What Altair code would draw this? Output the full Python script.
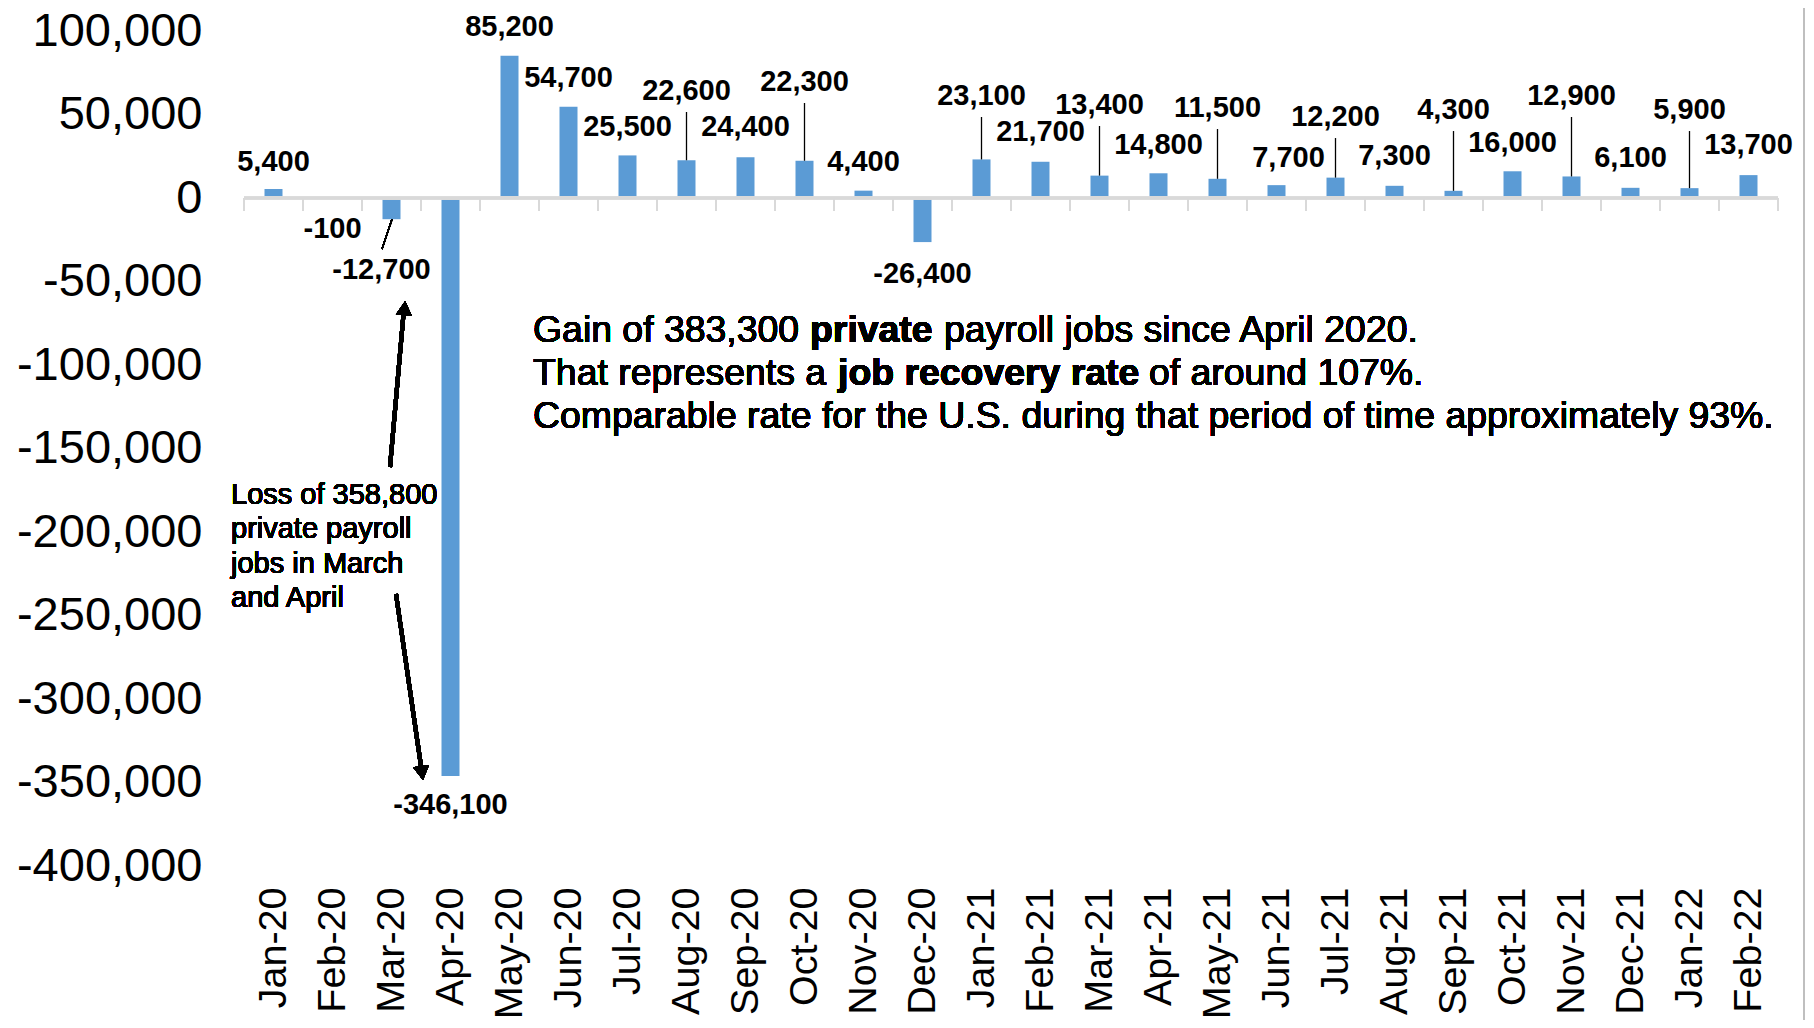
import altair as alt
import pandas as pd

FONT = "Liberation Sans"

months = ["Jan-20", "Feb-20", "Mar-20", "Apr-20", "May-20", "Jun-20", "Jul-20", "Aug-20",
          "Sep-20", "Oct-20", "Nov-20", "Dec-20", "Jan-21", "Feb-21", "Mar-21", "Apr-21",
          "May-21", "Jun-21", "Jul-21", "Aug-21", "Sep-21", "Oct-21", "Nov-21", "Dec-21",
          "Jan-22", "Feb-22"]
values = [5400, -100, -12700, -346100, 85200, 54700, 25500, 22600,
          24400, 22300, 4400, -26400, 23100, 21700, 13400, 14800,
          11500, 7700, 12200, 7300, 4300, 16000, 12900, 6100,
          5900, 13700]
# annotation placement of the value labels (y in data units)
label_y = [21600, -18600, -43100, -363500, 102400, 71900, 42500, 64100,
           42500, 69500, 21600, -45500, 61100, 39500, 55700, 31700,
           53900, 24000, 48500, 25100, 52700, 32900, 61100, 24000,
           52700, 31700]
label_dx = [0, 0, -10, 0, 0, 0, 0, 0, 0, 0, 0, 0, 0, 0, 0, 0,
            0, 12, 0, 0, 0, 0, 0, 0, 0, 0]
leader_months = ["Aug-20", "Oct-20", "Jan-21", "Mar-21", "May-21", "Jul-21",
                 "Sep-21", "Nov-21", "Jan-22"]
y_ticks = list(range(-400000, 100001, 50000))

df = pd.DataFrame({"month": months, "value": values, "label_y": label_y, "dx": label_dx})
df["label"] = [f"{v:,}" for v in values]
df["leader_top"] = df["label_y"] - 12600
lead_df = df[df["month"].isin(leader_months)]

xscale = alt.Scale(domain=months, paddingInner=0, paddingOuter=0)
yscale = alt.Scale(domain=[-400000, 100000], nice=False, zero=False)

x_axis = alt.Axis(title=None, domain=False, ticks=False, grid=False, labelAngle=270,
                  labelFontSize=39.5, labelFont=FONT, labelColor="black", labelPadding=21,
                  labelOverlap=False, labelLimit=0)
y_axis = alt.Axis(title=None, domain=False, ticks=False, grid=False, values=y_ticks,
                  labelExpr="replace(format(datum.value, ',d'), '\u2212', '-')",
                  labelFontSize=47, labelFont=FONT, labelColor="black", labelPadding=42,
                  labelLimit=0)


def xenc(bp=None):
    if bp is None:
        return alt.X("month:N", scale=xscale, axis=x_axis, sort=months)
    return alt.X("month:N", scale=xscale, axis=x_axis, sort=months, bandPosition=bp)


def yenc(field):
    return alt.Y(field, scale=yscale, axis=y_axis)


base = alt.Chart(df)

frame = base.mark_rule(color="#bfbfbf", strokeWidth=2).encode(
    x=alt.value(1560), y=alt.value(-31), y2=alt.value(1000))

zero = base.mark_rule(color="#d9d9d9", strokeWidth=2.5).encode(y=alt.datum(0, scale=yscale, axis=y_axis))

ticks = base.mark_rule(color="#d9d9d9", strokeWidth=2).encode(
    x=xenc(0), y=alt.datum(0), y2=alt.datum(-7800))
tick_end = alt.Chart(df[df["month"] == months[-1]]).mark_rule(color="#d9d9d9", strokeWidth=2).encode(
    x=xenc(1), y=alt.datum(0), y2=alt.datum(-7800))

bars = base.mark_bar(color="#5b9bd5", size=18).encode(
    x=xenc(),
    y=yenc("value:Q"),
)

leaders = alt.Chart(lead_df).mark_rule(color="black", strokeWidth=1.3).encode(
    x=xenc(), y=yenc("leader_top:Q"), y2="value:Q")

mar_leader = base.mark_rule(color="black", strokeWidth=1.3).encode(
    x=alt.value(138), x2=alt.value(148),
    y=alt.datum(-30500), y2=alt.datum(-12700))


def label_layer(d):
    sub = df[df["dx"] == d]
    return alt.Chart(sub).mark_text(font=FONT, fontSize=29, fontWeight="bold", color="black",
                                    baseline="middle", align="center", dx=d).encode(
        x=xenc(), y=yenc("label_y:Q"), text="label:N")


labels = [label_layer(d) for d in sorted(set(label_dx))]

arrow_up = base.mark_rule(color="black", strokeWidth=4).encode(
    x=alt.value(146), x2=alt.value(160), y=alt.datum(-161100), y2=alt.datum(-66000))
head_up = base.mark_point(shape="triangle-up", filled=True, size=260, angle=5,
                          color="black", opacity=1).encode(
    x=alt.value(160.5), y=alt.datum(-66000))
arrow_dn = base.mark_rule(color="black", strokeWidth=4).encode(
    x=alt.value(152), x2=alt.value(178), y=alt.datum(-237100), y2=alt.datum(-344300))
head_dn = base.mark_point(shape="triangle-down", filled=True, size=260, angle=352,
                          color="black", opacity=1).encode(
    x=alt.value(178), y=alt.datum(-344300))

loss_text = base.mark_text(font=FONT, fontSize=29, color="black", align="left",
                           baseline="middle", lineHeight=34.5,
                           text=["Loss of 358,800", "private payroll", "jobs in March", "and April"]).encode(
    x=alt.value(-13), y=alt.datum(-177800))


def seg(txt, xpx, yv, bold=False):
    return base.mark_text(font=FONT, fontSize=37.4, color="black", align="left", baseline="middle",
                          fontWeight="bold" if bold else "normal", text=txt).encode(
        x=alt.value(xpx), y=alt.datum(yv))


gain = [
    seg("Gain of 383,300", 289, -79800),
    seg("private", 566, -79800, True),
    seg("payroll jobs since April 2020.", 700, -79800),
    seg("That represents a", 289, -105600),
    seg("job recovery rate", 594, -105600, True),
    seg("of around 107%.", 905, -105600),
    seg("Comparable rate for the U.S. during that period of time approximately 93%.", 289, -131300),
]

chart = alt.layer(bars, frame, zero, ticks, tick_end, leaders, mar_leader, *labels,
                  arrow_up, head_up, arrow_dn, head_dn, loss_text, *gain).properties(
    width=1534, height=835,
    background="white",
    autosize=alt.AutoSizeParams(type="none"),
    padding={"left": 236, "top": 23, "right": 28, "bottom": 154},
).configure_view(strokeWidth=0, stroke="transparent")

chart.save("out.html", embed_options={"renderer": "svg", "actions": False})
